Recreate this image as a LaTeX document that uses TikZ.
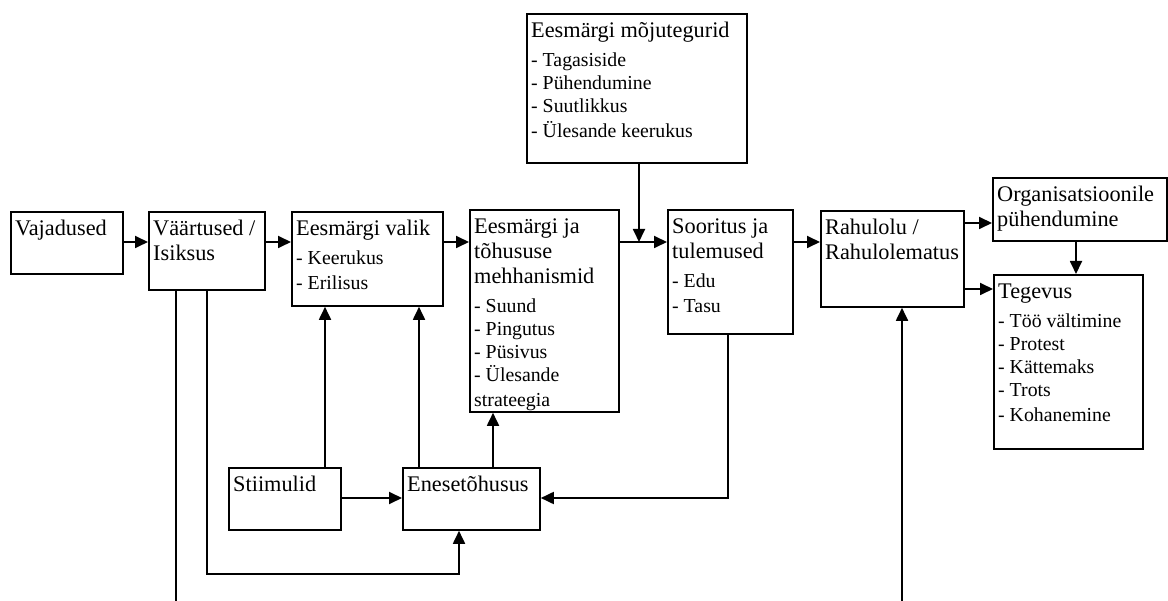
\documentclass[tikz,border=0pt]{standalone}
\usepackage{fontspec}
\setmainfont{Liberation Serif}
\usetikzlibrary{arrows.meta}
\hyphenpenalty=10000
\newcommand\pealkiri{\fontsize{22.3}{25}\selectfont}
\newcommand\loend{\par\vspace{6pt}\fontsize{19.8}{23}\selectfont}
\newcommand\ylal{\rule{0pt}{16pt}}
\tikzset{
  kast/.style={draw, line width=1.8pt, anchor=north west, inner sep=0pt},
  kiri/.style={anchor=north west, align=flush left, inner xsep=5pt, inner ysep=8pt, font=\pealkiri},
  nool/.style={-{Triangle[length=13pt,width=12pt]}, line width=1.8pt},
  joon/.style={line width=1.8pt}
}
\begin{document}
\begin{tikzpicture}[x=1pt, y=-1pt]
\useasboundingbox (0,0) rectangle (1168,601);
% kastid
\node[kast, minimum width=112pt, minimum height=62pt] (vaj) at (10,211) {};
\node[kast, minimum width=116pt, minimum height=78pt] (vaar) at (148,211) {};
\node[kast, minimum width=151pt, minimum height=94pt] (valik) at (291,211) {};
\node[kast, minimum width=149pt, minimum height=202pt] (meh) at (469,209) {};
\node[kast, minimum width=220pt, minimum height=149pt] (moju) at (526,13) {};
\node[kast, minimum width=125pt, minimum height=124pt] (soor) at (667,209) {};
\node[kast, minimum width=143pt, minimum height=96pt] (rahul) at (820,210) {};
\node[kast, minimum width=174pt, minimum height=63pt] (org) at (992,177) {};
\node[kast, minimum width=149pt, minimum height=174pt] (teg) at (993,274) {};
\node[kast, minimum width=112pt, minimum height=62pt] (stiim) at (228,467) {};
\node[kast, minimum width=137pt, minimum height=62pt] (enes) at (402,467) {};
% tekstid
\node[kiri, text width=106pt] (vaj-t) at (vaj.north west) {\ylal Vajadused};
\node[kiri, text width=110pt] (vaar-t) at (vaar.north west) {\ylal Väärtused /\\Isiksus};
\node[kiri, text width=145pt] (valik-t) at (valik.north west)
  {\ylal Eesmärgi valik\loend - Keerukus\\- Erilisus};
\node[kiri, text width=143pt] (meh-t) at (meh.north west)
  {\ylal Eesmärgi ja\\tõhususe\\mehhanismid\loend - Suund\\- Pingutus\\- Püsivus\\- Ülesande\\strateegia};
\node[kiri, text width=214pt] (moju-t) at (moju.north west)
  {\ylal Eesmärgi mõjutegurid\loend - Tagasiside\\- Pühendumine\\- Suutlikkus\\- Ülesande keerukus};
\node[kiri, text width=119pt] (soor-t) at (soor.north west)
  {\ylal Sooritus ja\\tulemused\loend - Edu\\- Tasu};
\node[kiri, text width=140pt] (rahul-t) at (rahul.north west) {\ylal Rahulolu /\\Rahulolematus};
\node[kiri, text width=170pt] (org-t) at (org.north west) {\ylal Organisatsioonile\\pühendumine};
\node[kiri, text width=143pt] (teg-t) at (teg.north west)
  {\ylal Tegevus\loend - Töö vältimine\\- Protest\\- Kättemaks\\- Trots\\- Kohanemine};
\node[kiri, text width=106pt] (stiim-t) at (stiim.north west) {\ylal Stiimulid};
\node[kiri, text width=131pt] (enes-t) at (enes.north west) {\ylal Enesetõhusus};
% abipunktid
\coordinate (rida) at (0,242);
\coordinate (r1) at (0,223);
\coordinate (r2) at (0,289);
\coordinate (r3) at (0,498);
\coordinate (r4) at (0,574);
\coordinate (m1) at (639,0);
\coordinate (o1) at (1076,0);
\coordinate (s1) at (325,0);
\coordinate (e1) at (419,0);
\coordinate (e2) at (493,0);
\coordinate (e3) at (459,0);
\coordinate (t1) at (728,0);
\coordinate (v1) at (176,601);
\coordinate (v2) at (207,0);
\coordinate (h1) at (902,601);
% nooled
\draw[nool] (vaj.east |- rida) -- (vaar.west |- rida);
\draw[nool] (vaar.east |- rida) -- (valik.west |- rida);
\draw[nool] (valik.east |- rida) -- (meh.west |- rida);
\draw[nool] (meh.east |- rida) -- (soor.west |- rida);
\draw[nool] (moju.south -| m1) -- (m1 |- rida);
\draw[nool] (soor.east |- rida) -- (rahul.west |- rida);
\draw[nool] (rahul.east |- r1) -- (org.west |- r1);
\draw[nool] (rahul.east |- r2) -- (teg.west |- r2);
\draw[nool] (org.south -| o1) -- (teg.north -| o1);
\draw[nool] (stiim.north -| s1) -- (valik.south -| s1);
\draw[nool] (enes.north -| e1) -- (valik.south -| e1);
\draw[nool] (enes.north -| e2) -- (meh.south -| e2);
\draw[nool] (stiim.east |- r3) -- (enes.west |- r3);
\draw[nool] (soor.south -| t1) |- (enes.east |- r3);
\draw[nool] (vaar.south -| v2) |- (e3 |- r4) -- (enes.south -| e3);
\draw[joon] (vaar.south -| v1) -- (v1);
\draw[nool] (h1) -- (rahul.south -| h1);
\end{tikzpicture}
\end{document}
